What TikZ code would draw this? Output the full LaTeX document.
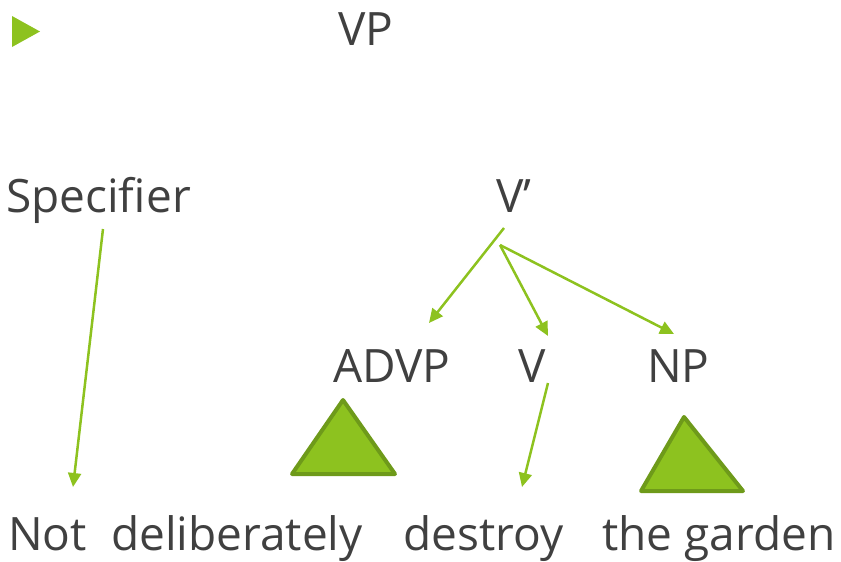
\documentclass[tikz,border=0pt]{standalone}
\usepackage{fontspec}
\setmainfont{Open Sans}
\usetikzlibrary{arrows.meta}
\definecolor{leafgreen}{HTML}{8DC21F}
\definecolor{leafdark}{HTML}{6E9A1A}
\definecolor{inkgray}{HTML}{404040}
\tikzset{word/.style={anchor=base west,inner sep=0pt,text=inkgray,
  font=\fontsize{46}{55}\selectfont}}
\tikzset{arr/.style={leafgreen,line width=2.5pt,
  -{Triangle[length=14pt,width=13pt]}}}
\tikzset{tri/.style={fill=leafgreen,draw=leafdark,line width=4pt,line join=round}}

\begin{document}
\begin{tikzpicture}[x=1pt,y=-1pt]
\useasboundingbox (0,0) rectangle (841,562);

% bullet
\fill[leafgreen] (12,16) -- (40,31.5) -- (12,47) -- cycle;

% labels
\node[word] (vp) at (338,45) {VP};
\node[word] (spec) at (6,212) {Specifier};
\node[word] (vbar) at (496,212) {V’};
\node[word] (advp) at (333,382) {ADVP};
\node[word] (v) at (518,382) {V};
\node[word] (np) at (647,382) {NP};

% words
\node[word] (not) at (8,550) {Not};
\node[word] (delib) at (111,550) {deliberately};
\node[word] (destroy) at (403,550) {destroy};
\node[word] (garden) at (602,550) {the garden};

% arrow ends
\coordinate (specfoot) at (103,229);
\coordinate (notend) at (73,487);
\coordinate (vbarfoot) at (504,228);
\coordinate (vbarfork) at (500,245);
\coordinate (advpend) at (429,323);
\coordinate (vend) at (548,336);
\coordinate (npend) at (674,334);
\coordinate (vfoot) at (548,383);
\coordinate (destroyend) at (522,487);

\draw[arr] (specfoot) -- (notend);
\draw[arr] (vbarfoot) -- (advpend);
\draw[arr] (vbarfork) -- (vend);
\draw[arr] (vbarfork) -- (npend);
\draw[arr] (vfoot) -- (destroyend);

% roofs
\draw[tri] (343,400) -- (395,474) -- (292,474) -- cycle;
\draw[tri] (684,417) -- (743,491) -- (641,491) -- cycle;

\end{tikzpicture}
\end{document}
